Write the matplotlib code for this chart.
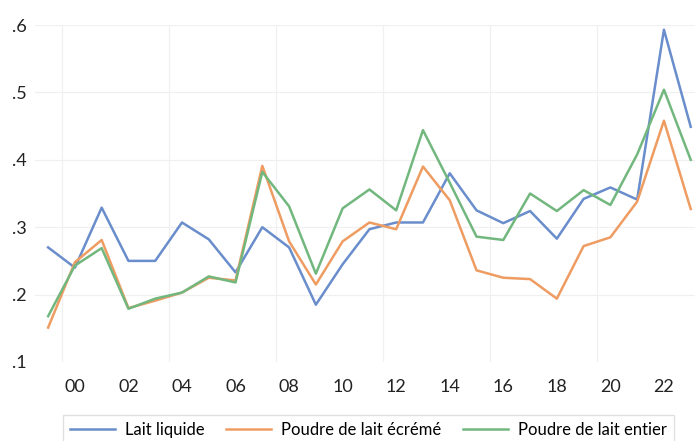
import matplotlib
matplotlib.use("Agg")
import matplotlib.pyplot as plt
import numpy as np

years = list(range(1999, 2024))
lait_liquide = [0.270, 0.240, 0.329, 0.250, 0.250, 0.307, 0.282, 0.233, 0.300, 0.270,
                0.185, 0.245, 0.297, 0.307, 0.307, 0.380, 0.325, 0.306, 0.324, 0.283,
                0.342, 0.359, 0.341, 0.593, 0.449]
poudre_ecreme = [0.151, 0.248, 0.281, 0.180, 0.191, 0.203, 0.225, 0.221, 0.391, 0.279,
                 0.215, 0.279, 0.307, 0.297, 0.390, 0.340, 0.236, 0.225, 0.223, 0.194,
                 0.272, 0.285, 0.338, 0.458, 0.327]
poudre_entier = [0.168, 0.243, 0.269, 0.179, 0.194, 0.203, 0.227, 0.218, 0.382, 0.331,
                 0.231, 0.328, 0.356, 0.325, 0.444, 0.366, 0.286, 0.281, 0.350, 0.324,
                 0.355, 0.333, 0.408, 0.504, 0.400]
x_ticks = list(range(2000, 2023, 2))
y_ticks = [0.1, 0.2, 0.3, 0.4, 0.5, 0.6]

plt.rcParams['font.family'] = ['Lato', 'DejaVu Sans']

fig = plt.figure(figsize=(6.95, 4.41), dpi=100)
ax = fig.add_axes([35 / 695, 1 - 362 / 441, 660 / 695, 337 / 441])

# gridlines sit between years in the original
for gx in [1999.5, 2003.5, 2007.5, 2011.5, 2015.5, 2019.5]:
    ax.axvline(gx, color='#f0f0f0', lw=0.9, zorder=0)
for gy in y_ticks[1:]:
    ax.axhline(gy, color='#f0f0f0', lw=0.9, zorder=0)

ax.plot(years, lait_liquide, color='#6a8dcb', lw=1.8, label='Lait liquide')
ax.plot(years, poudre_ecreme, color='#ee9c62', lw=1.8, label='Poudre de lait écrémé')
ax.plot(years, poudre_entier, color='#72b77e', lw=1.8, label='Poudre de lait entier')

ax.set_xlim(1998.51, 2023.16)
ax.set_ylim(0.1, 0.6)
ax.set_xticks(x_ticks)
ax.set_xticklabels([str(y)[2:] for y in x_ticks])
ax.set_yticks(y_ticks)
ax.set_yticklabels(['.' + str(int(round(v * 10))) for v in y_ticks])
ax.tick_params(axis='both', length=0, labelsize=13, colors='#222222')
ax.tick_params(axis='x', pad=12)
ax.tick_params(axis='y', pad=6)
for s in ax.spines.values():
    s.set_visible(False)

leg = fig.legend(loc='lower left', bbox_to_anchor=(63 / 695, -0.008, 611 / 695, 0.08),
                 mode='expand', ncol=3, fontsize=12, frameon=True, fancybox=False,
                 handlelength=2.7, borderaxespad=0, handletextpad=0.6, columnspacing=1.0)
leg.get_frame().set_edgecolor('#d9d9d9')
leg.get_frame().set_linewidth(1.0)

fig.savefig('out.png', dpi=100)
